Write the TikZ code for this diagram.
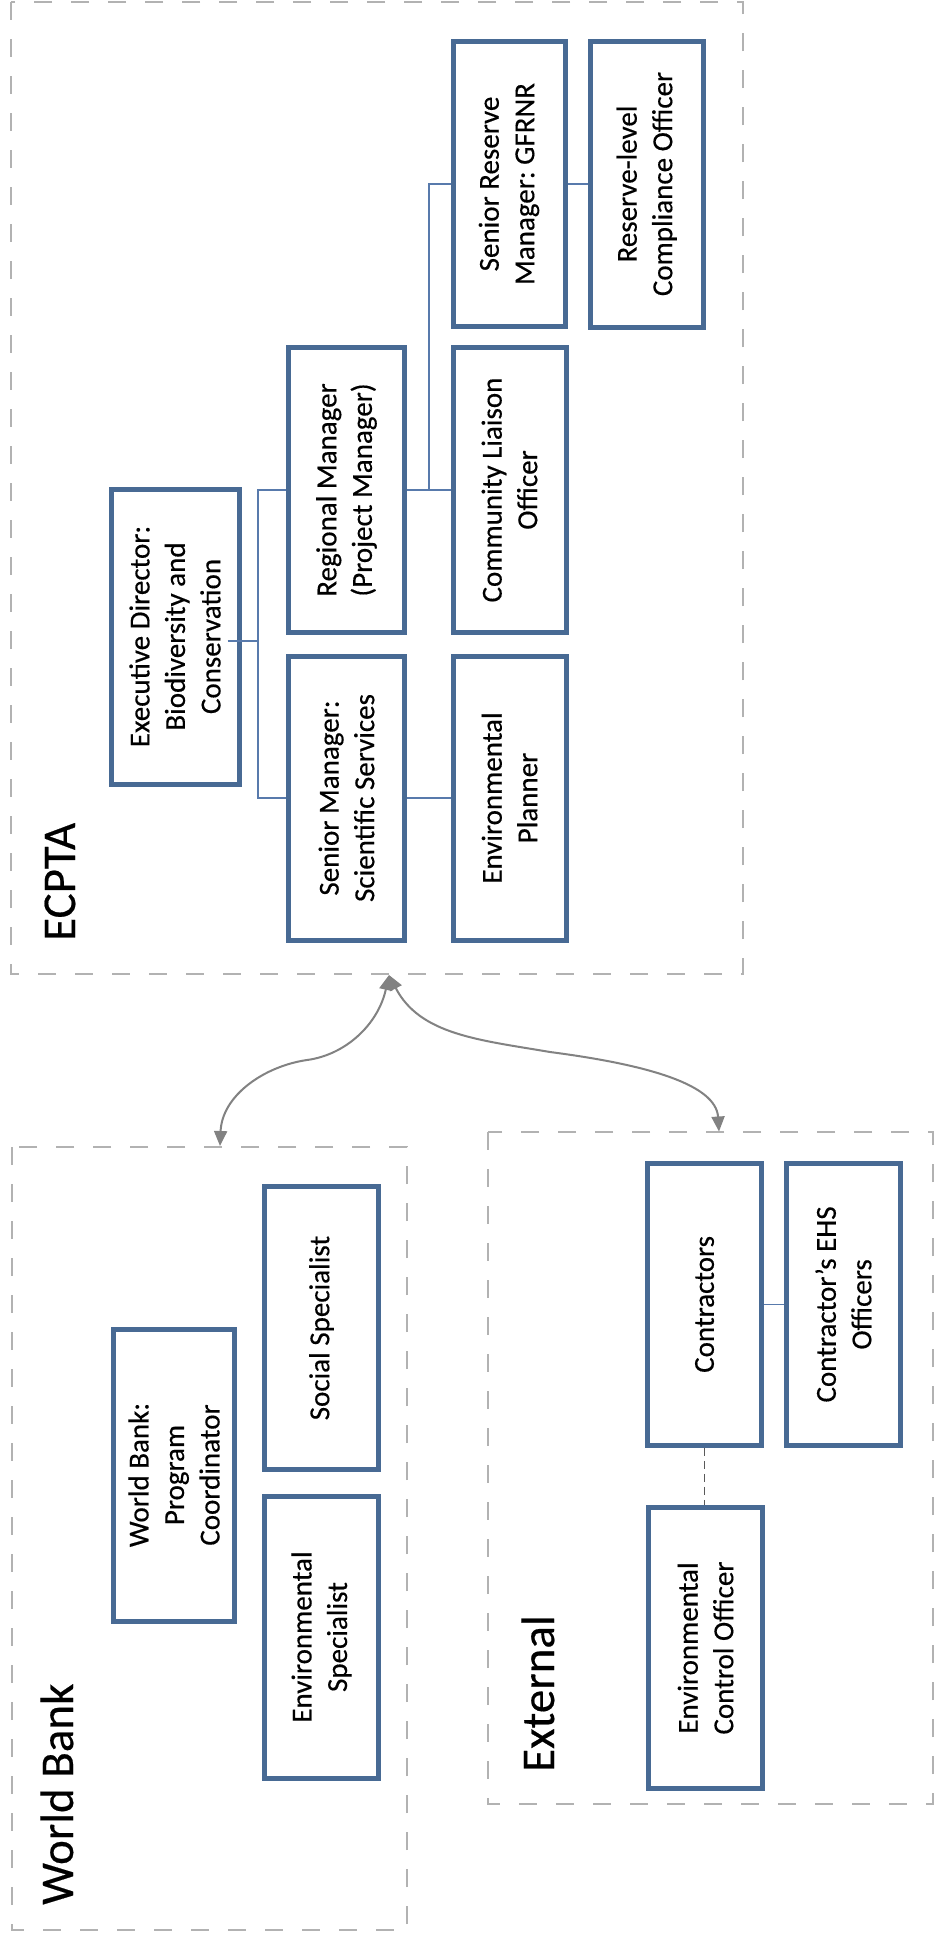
\documentclass[tikz,border=0pt]{standalone}
\usepackage{fontspec}
\setmainfont{Carlito}[FakeBold=0.4]
\usetikzlibrary{arrows.meta,calc}
\definecolor{boxblue}{RGB}{72,106,148}
\definecolor{connblue}{RGB}{88,122,172}
\definecolor{grpgray}{RGB}{178,178,178}
\definecolor{arrgray}{RGB}{130,130,130}
\tikzset{
  orgbox/.style={draw=boxblue, line width=5pt, fill=white, rotate=90, align=center, inner sep=0pt, font=\fontsize{29}{35.5}\selectfont, text=black},
  conn/.style={draw=connblue, line width=1.6pt},
  dashconn/.style={draw=black!65, line width=1.6pt, dash pattern=on 8pt off 5pt},
  grp/.style={draw=grpgray, line width=2.2pt, dash pattern=on 18pt off 19pt},
  grplabel/.style={rotate=90, anchor=base west, inner sep=0pt, font=\fontsize{47}{56}\selectfont, text=black},
  link/.style={draw=arrgray, line width=2pt, {Triangle[length=15pt,width=13pt]}-{Triangle[length=15pt,width=13pt]}},
}
\frenchspacing
\begin{document}
\begin{tikzpicture}[x=1pt,y=-1pt]
\useasboundingbox (0,0) rectangle (934,1938);
\fill[white] (0,0) rectangle (934,1938);
% group frames
\draw[grp] (11,2) rectangle (743,974);
\draw[grp] (12,1147) rectangle (407,1930);
\draw[grp] (488,1132) rectangle (933,1804);
% group labels
\node[grplabel] (lecpta) at (75,941) {ECPTA};
\node[grplabel] (lwb) at (73,1905) {World Bank};
\node[grplabel] (lext) at (554,1772) {External};
% ECPTA boxes
\node[orgbox, minimum width=295pt, minimum height=128pt] (ed) at (175,636.5) {Executive Director:\\Biodiversity and\\Conservation};
\node[orgbox, minimum width=285pt, minimum height=116pt] (rm) at (346.5,490) {Regional Manager\\(Project Manager)};
\node[orgbox, minimum width=284pt, minimum height=116pt] (sm) at (346.5,798) {Senior Manager:\\Scientific Services};
\node[orgbox, minimum width=285pt, minimum height=113pt] (clo) at (509.5,490) {Community Liaison\\Officer};
\node[orgbox, minimum width=284pt, minimum height=113pt] (ep) at (509.5,798) {Environmental\\Planner};
\node[orgbox, minimum width=285pt, minimum height=112pt] (srm) at (509,184) {Senior Reserve\\Manager: GFRNR};
\node[orgbox, minimum width=286pt, minimum height=113pt] (rco) at (646.7,184) {Reserve-level\\Compliance Officer};
% World Bank boxes
\node[orgbox, minimum width=292pt, minimum height=121pt] (wbpc) at (174,1475) {World Bank:\\Program\\Coordinator};
\node[orgbox, minimum width=283pt, minimum height=114pt] (ss) at (321.5,1328) {Social Specialist};
\node[orgbox, minimum width=282pt, minimum height=114pt] (es) at (321.5,1637) {Environmental\\Specialist};
% External boxes
\node[orgbox, minimum width=282pt, minimum height=114pt] (con) at (704.5,1304.4) {Contractors};
\node[orgbox, minimum width=282pt, minimum height=114pt] (ehs) at (843.4,1304.4) {Contractor’s EHS\\Officers};
\node[orgbox, minimum width=281pt, minimum height=114pt] (eco) at (705.5,1648) {Environmental\\Control Officer};
% connectors
\coordinate (j1) at (258,641);
\draw[conn] ($(ed.south)+(-14,4.5)$) -- (j1);
\draw[conn] (j1) |- (rm.north);
\draw[conn] (j1) |- (sm.north);
\draw[conn] (rm.south) -- (clo.north);
\coordinate (j2) at ($(rm.south)!0.5!(clo.north)$);
\draw[conn] (j2) |- (srm.north);
\draw[conn] (srm.south) -- (rco.north);
\draw[conn] (sm.south) -- (ep.north);
\draw[conn] (con.south) -- (ehs.north);
\draw[dashconn] (con.west) -- (con.west |- eco.east);
% links between groups
\coordinate (apex) at (389,975);
\coordinate (wbtop) at (220,1146);
\coordinate (exttop) at (719,1131.5);
\draw[link] (apex) .. controls (378,1025) and (345,1055) .. (307,1060) .. controls (265,1066) and (222,1095) .. (wbtop);
\draw[link] (apex) .. controls (420,1035) and (480,1040) .. (550,1052) .. controls (650,1065) and (716,1085) .. (exttop);
\end{tikzpicture}
\end{document}
